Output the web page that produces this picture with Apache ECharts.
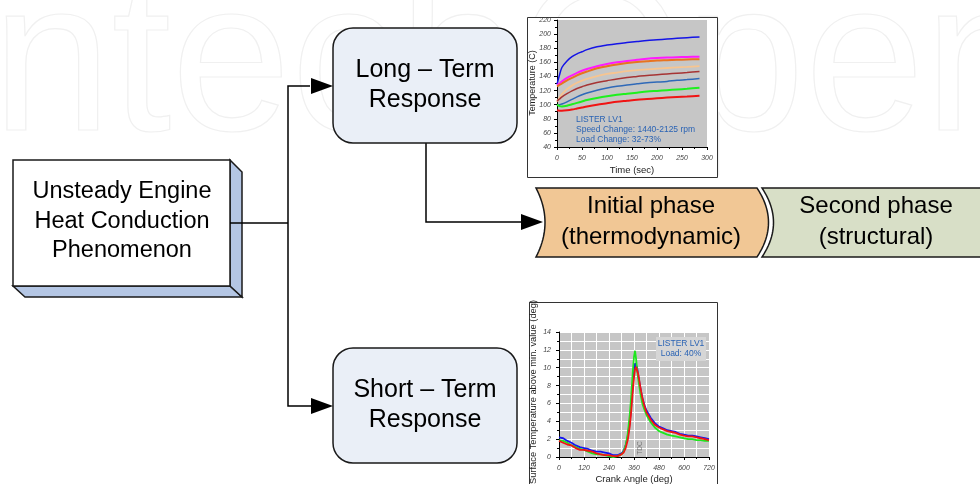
<!DOCTYPE html>
<html>
<head>
<meta charset="utf-8">
<script src="https://cdn.jsdelivr.net/npm/echarts@6/dist/echarts.min.js"></script>
<style>html,body{margin:0;padding:0;background:#fff}#c{width:980px;height:484px}</style>
</head>
<body>
<div id="c"></div>
<script>
// ---- Long-term response chart (temperature vs time) ----
var timeSec = [0,5,10,20,30,40,50,60,80,100,120,140,160,180,200,220,240,260,285];
var tBlue    = [129,142,153,162,168,172,175,178,182,184.5,186.5,188,189.5,191,192,193,194,195,196];
var tMagenta = [128,130,133,138,141.5,145,148,150.5,154.5,157.5,160,162,163.5,165,166,166.7,167.2,167.6,168];
var tOrange  = [126,128,130,134.5,138,141.5,144.5,147,151.5,154.5,157,159,160.5,161.5,162.5,163,163.5,164,164.5];
var tPeach   = [104,110,115,122,127,131,134,136.5,140.5,143.5,145.5,147.5,149,150,151,152,152.8,153.5,154.5];
var tBrown   = [105,108,111,115.5,119.5,123,125.5,128,131.5,134,136.5,138.5,140,141.5,142.5,143.5,144.5,145.5,147];
var tSteel   = [100,100,101,104,107.5,111,114,116.5,120.5,123.5,126,128,129.5,131,132,133,134.5,135.5,137];
var tGreen   = [100,98,97.5,98.5,100.5,102.5,104.5,106.5,109.5,112,114,115.5,117,118.5,119.5,120.5,121.5,122.5,124];
var tRed     = [92,91.5,91.5,92,93,94.5,96,97.5,100,102,104,105.5,107,108,109,110,110.8,111.5,112.5];
var timeTicks = [0,50,100,150,200,250,300];
var tempTicks = [40,60,80,100,120,140,160,180,200,220];

// ---- Short-term response chart (surface temp vs crank angle) ----
var crank = [0,20,40,60,80,100,120,140,160,180,200,220,240,260,280,300,310,320,330,340,345,350,355,360,365,370,375,380,390,400,410,420,440,460,480,500,520,540,560,580,600,620,640,660,680,700,720];
var sBlue  = [2.2,2.1,1.8,1.6,1.3,1.1,1.0,0.9,0.7,0.6,0.6,0.5,0.4,0.2,0.2,0.4,0.7,1.3,2.3,4.0,5.2,6.8,8.3,9.6,10.5,10.6,10.0,9.2,7.8,6.6,5.8,5.2,4.4,3.8,3.4,3.2,3.0,2.9,2.8,2.6,2.5,2.4,2.4,2.3,2.2,2.1,2.0];
var sGreen = [1.9,1.8,1.6,1.3,1.1,0.9,0.8,0.6,0.4,0.3,0.3,0.2,0.1,0.0,0.1,0.3,0.6,1.3,2.6,4.8,6.3,8.0,9.8,11.2,11.9,11.0,9.8,8.8,7.2,6.0,5.3,4.7,3.9,3.3,2.9,2.7,2.5,2.4,2.3,2.2,2.1,2.0,2.0,1.9,1.9,1.8,1.8];
var sRed   = [1.8,1.6,1.4,1.3,1.0,0.8,0.8,0.7,0.6,0.4,0.3,0.2,0.2,0.1,0.1,0.3,0.5,1.0,1.9,3.5,4.7,6.2,7.6,8.9,9.8,10.1,9.9,9.3,7.9,6.6,5.7,5.0,4.2,3.6,3.3,3.1,2.9,2.8,2.7,2.5,2.4,2.3,2.3,2.2,2.1,2.0,1.9];
var crankTicks = [0,120,240,360,480,600,720];
var surfTicks = [0,2,4,6,8,10,12,14];

function pairs(xs, ys){ return xs.map(function(x,i){ return [x, ys[i]]; }); }
function line(name, xi, xs, ys, color, w){
  return {name:name, type:'line', xAxisIndex:xi, yAxisIndex:xi, data:pairs(xs,ys), showSymbol:false,
          smooth: xi===0 ? 0.3 : false, lineStyle:{color:color, width:w}, itemStyle:{color:color}, z:3, silent:true, animation:false};
}

var FONT = 'Liberation Sans';
var axisLbl = {fontSize:7, fontStyle:'italic', color:'#444', fontFamily:FONT};

var chart = echarts.init(document.getElementById('c'), null, {renderer:'canvas'});

var boxStroke = '#1a1a1a';
function arrowHead(tipX, y){
  return {type:'polygon', shape:{points:[[tipX,y],[tipX-22,y-8],[tipX-22,y+8]]}, style:{fill:'#000'}, z:5};
}
function bigText(x,y,t,size){
  return {type:'text', x:x, y:y, style:{text:t, fontSize:size, fontFamily:FONT, fill:'#000', textAlign:'center', textVerticalAlign:'middle'}, z:6};
}
// quadratic curve sampler for the phase shape outlines
function quad(p0, c, p1, n){
  var pts = [];
  for (var i = 0; i <= n; i++){
    var t = i / n, u = 1 - t;
    pts.push([u*u*p0[0] + 2*u*t*c[0] + t*t*p1[0], u*u*p0[1] + 2*u*t*c[1] + t*t*p1[1]]);
  }
  return pts;
}
var phase1 = [[536,188]].concat(quad([757,188],[780,222.5],[757,257],24)).concat(quad([536,257],[554,222.5],[536,188],24));
var phase2 = [[990,188],[990,257]].concat(quad([762,257],[785,222.5],[762,188],24));

var graphics = [
  // watermark
  {type:'text', x:-8, y:178, style:{text:'ntechOpen', fontSize:215, fontFamily:FONT, fill:'rgba(0,0,0,0)', stroke:'#f0f0f0', lineWidth:1.2, textVerticalAlign:'bottom'}, z:-20, silent:true},
  // chart frames
  {type:'rect', shape:{x:527.5, y:17.5, width:190, height:160}, style:{fill:'#fff', stroke:'#333', lineWidth:1}, z:-5},
  {type:'rect', shape:{x:529.5, y:302.5, width:188, height:200}, style:{fill:'#fff', stroke:'#333', lineWidth:1}, z:-5},
  // left 3D box
  {type:'polygon', shape:{points:[[13,286],[230,286],[242,297],[25,297]]}, style:{fill:'#b4c6e4', stroke:boxStroke, lineWidth:1.5}, z:4},
  {type:'polygon', shape:{points:[[230,160],[242,172],[242,297],[230,286]]}, style:{fill:'#b4c6e4', stroke:boxStroke, lineWidth:1.5}, z:4},
  {type:'rect', shape:{x:13, y:160, width:217, height:126}, style:{fill:'#fff', stroke:boxStroke, lineWidth:1.5}, z:4},
  bigText(122,192,'Unsteady Engine',23.5),
  bigText(122,222,'Heat Conduction',23.5),
  bigText(122,251,'Phenomenon',23.5),
  // connector lines
  {type:'polyline', shape:{points:[[230,223],[288,223]]}, style:{stroke:'#000', lineWidth:1.5}, z:4},
  {type:'polyline', shape:{points:[[310,86],[288,86],[288,406],[311,406]]}, style:{stroke:'#000', lineWidth:1.5, fill:null}, z:4},
  arrowHead(333,86),
  arrowHead(333,406),
  {type:'polyline', shape:{points:[[426,143],[426,222],[522,222]]}, style:{stroke:'#000', lineWidth:1.5, fill:null}, z:4},
  arrowHead(543,222),
  // Long-term box
  {type:'rect', shape:{x:333, y:28, width:184, height:115, r:20}, style:{fill:'#eaeff7', stroke:boxStroke, lineWidth:1.5}, z:4},
  bigText(425,70,'Long \u2013 Term',25),
  bigText(425,100,'Response',25),
  // Short-term box
  {type:'rect', shape:{x:333, y:348, width:184, height:115, r:20}, style:{fill:'#eaeff7', stroke:boxStroke, lineWidth:1.5}, z:4},
  bigText(425,390,'Short \u2013 Term',25),
  bigText(425,420,'Response',25),
  // phase shapes
  {type:'polygon', shape:{points:phase1}, style:{fill:'#f1c795', stroke:boxStroke, lineWidth:1.5}, z:4},
  {type:'polygon', shape:{points:phase2}, style:{fill:'#d8dfc7', stroke:boxStroke, lineWidth:1.5}, z:4},
  bigText(651,206,'Initial phase',24),
  bigText(651,237,'(thermodynamic)',24),
  bigText(876,206,'Second phase',24),
  bigText(876,237,'(structural)',24),
  // small chart texts
  {type:'text', x:533, y:83, rotation:Math.PI/2, style:{text:'Temperature (C)', fontSize:9, fontFamily:FONT, fill:'#222', textAlign:'center', textVerticalAlign:'middle'}, z:6},
  {type:'text', x:632, y:170, style:{text:'Time (sec)', fontSize:9.5, fontFamily:FONT, fill:'#222', textAlign:'center', textVerticalAlign:'middle'}, z:6},
  {type:'text', x:576, y:120, style:{text:'LISTER LV1', fontSize:8.5, fontFamily:FONT, fill:'#2a63b4', textVerticalAlign:'middle'}, z:6},
  {type:'text', x:576, y:130, style:{text:'Speed Change: 1440-2125 rpm', fontSize:8.5, fontFamily:FONT, fill:'#2a63b4', textVerticalAlign:'middle'}, z:6},
  {type:'text', x:576, y:140, style:{text:'Load Change: 32-73%', fontSize:8.5, fontFamily:FONT, fill:'#2a63b4', textVerticalAlign:'middle'}, z:6},
  {type:'text', x:533, y:392, rotation:Math.PI/2, style:{text:'Surface Temperature above min. value (deg)', fontSize:9.3, fontFamily:FONT, fill:'#222', textAlign:'center', textVerticalAlign:'middle'}, z:6},
  {type:'text', x:634, y:479, style:{text:'Crank Angle (deg)', fontSize:9.5, fontFamily:FONT, fill:'#222', textAlign:'center', textVerticalAlign:'middle'}, z:6},
  {type:'rect', shape:{x:656, y:337, width:50, height:24}, style:{fill:'#d6d6d6'}, z:5},
  {type:'text', x:681, y:344, style:{text:'LISTER LV1', fontSize:8.5, fontFamily:FONT, fill:'#2a63b4', textAlign:'center', textVerticalAlign:'middle'}, z:6},
  {type:'text', x:681, y:354, style:{text:'Load: 40%', fontSize:8.5, fontFamily:FONT, fill:'#2a63b4', textAlign:'center', textVerticalAlign:'middle'}, z:6},
  {type:'text', x:640, y:448, rotation:Math.PI/2, style:{text:'TDC', fontSize:6.5, fontFamily:FONT, fill:'#777', textAlign:'center', textVerticalAlign:'middle'}, z:6}
];

var option = {
  animation:false,
  textStyle:{fontFamily:FONT},
  grid:[
    {left:557, top:20, width:150, height:127, show:true, backgroundColor:'#c6c6c6', borderWidth:0},
    {left:559, top:332, width:150, height:125, show:true, backgroundColor:'#c6c6c6', borderWidth:0}
  ],
  xAxis:[
    {type:'value', gridIndex:0, min:timeTicks[0], max:timeTicks[timeTicks.length-1], interval:50,
     axisLine:{lineStyle:{color:'#000', width:1}}, axisTick:{show:true, length:3, lineStyle:{color:'#000'}},
     minorTick:{show:true, splitNumber:2, length:2, lineStyle:{color:'#000'}},
     splitLine:{show:false}, axisLabel:Object.assign({margin:8}, axisLbl)},
    {type:'value', gridIndex:1, min:crankTicks[0], max:crankTicks[crankTicks.length-1], interval:120,
     axisLine:{lineStyle:{color:'#000', width:1}}, axisTick:{show:true, length:3, lineStyle:{color:'#000'}},
     minorTick:{show:true, splitNumber:2, length:2, lineStyle:{color:'#000'}},
     splitLine:{show:true, lineStyle:{color:'#fff', width:1}},
     minorSplitLine:{show:true, lineStyle:{color:'#fff', width:1}},
     axisLabel:Object.assign({margin:8}, axisLbl)}
  ],
  yAxis:[
    {type:'value', gridIndex:0, min:tempTicks[0], max:tempTicks[tempTicks.length-1], interval:20,
     axisLine:{show:true, lineStyle:{color:'#000', width:1}}, axisTick:{show:true, length:3, lineStyle:{color:'#000'}},
     minorTick:{show:true, splitNumber:2, length:2, lineStyle:{color:'#000'}},
     splitLine:{show:false}, axisLabel:Object.assign({margin:6}, axisLbl)},
    {type:'value', gridIndex:1, min:surfTicks[0], max:surfTicks[surfTicks.length-1], interval:2,
     axisLine:{show:true, lineStyle:{color:'#000', width:1}}, axisTick:{show:true, length:3, lineStyle:{color:'#000'}},
     minorTick:{show:true, splitNumber:2, length:2, lineStyle:{color:'#000'}},
     splitLine:{show:true, lineStyle:{color:'#fff', width:1}},
     minorSplitLine:{show:true, lineStyle:{color:'#fff', width:1}},
     axisLabel:Object.assign({margin:8}, axisLbl)}
  ],
  series:[
    line('blue',0,timeSec,tBlue,'#1414e6',1.5),
    line('magenta',0,timeSec,tMagenta,'#ff1aff',2),
    line('orange',0,timeSec,tOrange,'#e8731f',2),
    line('peach',0,timeSec,tPeach,'#f7c590',1.8),
    line('brown',0,timeSec,tBrown,'#a63434',1.5),
    line('steel',0,timeSec,tSteel,'#2f69b8',1.5),
    line('green',0,timeSec,tGreen,'#1ef01e',2),
    line('red',0,timeSec,tRed,'#f01414',2),
    line('blue',1,crank,sBlue,'#1414f0',1.8),
    line('green',1,crank,sGreen,'#1ee61e',1.8),
    line('red',1,crank,sRed,'#f01414',1.8)
  ],
  graphic:graphics
};
chart.setOption(option);
</script>
</body>
</html>
